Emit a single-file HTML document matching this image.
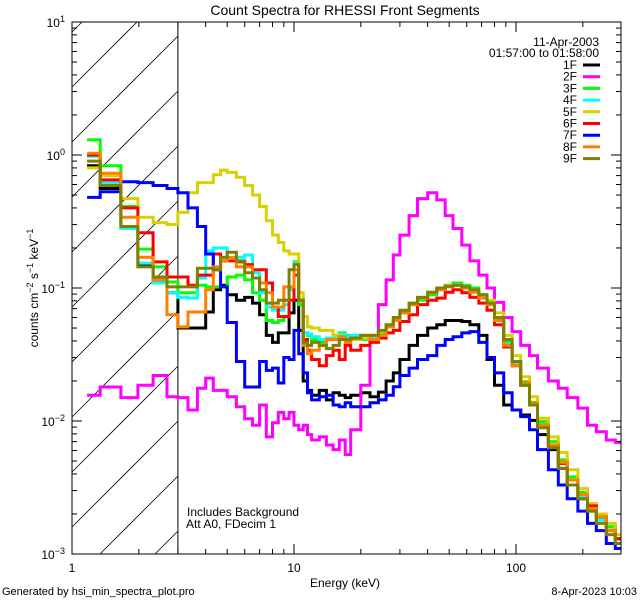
<!DOCTYPE html>
<html><head><meta charset="utf-8"><style>
html,body{margin:0;padding:0;background:#fff;width:640px;height:600px;overflow:hidden;}
svg{display:block;font-family:"Liberation Sans",sans-serif;}
</style></head><body>
<svg id="chart" width="640" height="600" viewBox="0 0 640 600" xmlns="http://www.w3.org/2000/svg">
<rect width="640" height="600" fill="#fff"/>
<text x="345" y="15" font-size="14" text-anchor="middle">Count Spectra for RHESSI Front Segments</text>
<text transform="translate(38,288) rotate(-90)" font-size="12" text-anchor="middle">counts cm<tspan dy="-5" font-size="9">−2</tspan><tspan dy="5"> s</tspan><tspan dy="-5" font-size="9">−1</tspan><tspan dy="5"> keV</tspan><tspan dy="-5" font-size="9">−1</tspan></text>
<text x="345" y="587" font-size="12" text-anchor="middle">Energy (keV)</text>
<text x="2" y="595" font-size="11">Generated by hsi_min_spectra_plot.pro</text>
<text x="637" y="595" font-size="11" text-anchor="end">8-Apr-2023 10:03</text>
<text x="187" y="516" font-size="12">Includes Background</text>
<text x="186" y="528" font-size="12">Att A0, FDecim 1</text>
<text x="599" y="46" font-size="12" text-anchor="end">11-Apr-2003</text>
<text x="599" y="57" font-size="12" text-anchor="end">01:57:00 to 01:58:00</text>
<g id="hatch"></g>
<g id="series"></g>
<g id="axes"></g>
<g id="legend"></g>
</svg>
<script>
const edges = [1.17,1.34,1.66,1.98,2.32,2.68,3.0,3.33,3.67,4.0,4.33,4.67,5.0,5.5,6,6.5,7,7.5,8,8.5,9,9.5,10,10.5,11,11.5,12,13,14,15,16,17,18,20,22,24,26,28,30,33,36,40,44,48,52,57,62,68,74,80,88,96,105,115,125,140,155,170,190,210,230,255,280,297];
const seriesNames = ["1F","2F","3F","4F","5F","6F","7F","8F","9F"];
const seriesColors = ["#000000","#ff00ff","#00ff00","#00ffff","#d8d000","#ff0000","#0000ff","#ff8000","#808000"];
const s1F = [0.83,0.56,0.29,0.15,0.115,0.092,0.050,0.050,0.050,0.066,0.097,0.105,0.089,0.081,0.085,0.077,0.063,0.044,0.039,0.046,0.046,0.065,0.081,0.048,0.020,0.017,0.0156,0.017,0.0144,0.0163,0.0156,0.0150,0.0156,0.0163,0.0152,0.0165,0.020,0.023,0.029,0.037,0.044,0.050,0.053,0.057,0.057,0.056,0.053,0.044,0.029,0.0186,0.0132,0.0121,0.0111,0.0101,0.0079,0.0061,0.0044,0.0033,0.0026,0.0022,0.0019,0.0016,0.0013];
const s2F = [0.0156,0.018,0.0150,0.0186,0.022,0.0152,0.0150,0.0121,0.0176,0.021,0.017,0.017,0.0152,0.0128,0.0104,0.0093,0.0132,0.0076,0.0097,0.0116,0.0104,0.0116,0.0093,0.0086,0.0093,0.0079,0.0072,0.0076,0.0066,0.0061,0.0072,0.0056,0.0086,0.0186,0.041,0.075,0.115,0.177,0.25,0.35,0.47,0.52,0.46,0.35,0.28,0.21,0.16,0.125,0.10,0.078,0.060,0.047,0.037,0.031,0.025,0.020,0.0176,0.0150,0.0125,0.0093,0.0083,0.0072,0.0069];
const s3F = [1.30,0.83,0.41,0.196,0.144,0.111,0.092,0.092,0.105,0.102,0.102,0.102,0.121,0.125,0.115,0.092,0.081,0.057,0.055,0.057,0.061,0.081,0.157,0.075,0.046,0.044,0.041,0.039,0.041,0.044,0.046,0.044,0.043,0.041,0.042,0.046,0.051,0.057,0.065,0.075,0.081,0.089,0.097,0.105,0.109,0.105,0.100,0.089,0.078,0.060,0.039,0.028,0.0197,0.0138,0.0099,0.0070,0.0051,0.0038,0.0029,0.0023,0.0019,0.0016,0.0013];
const s4F = [0.98,0.62,0.28,0.154,0.109,0.092,0.085,0.084,0.119,0.19,0.20,0.20,0.17,0.17,0.177,0.13,0.092,0.072,0.068,0.068,0.075,0.097,0.154,0.081,0.046,0.045,0.043,0.041,0.042,0.043,0.045,0.043,0.044,0.042,0.043,0.047,0.052,0.058,0.066,0.076,0.085,0.092,0.098,0.104,0.106,0.102,0.097,0.087,0.076,0.058,0.038,0.027,0.019,0.0132,0.0094,0.0066,0.0048,0.0036,0.0027,0.0021,0.0018,0.0015,0.0013];
const s5F = [0.80,0.70,0.47,0.34,0.31,0.30,0.37,0.52,0.62,0.62,0.71,0.77,0.74,0.68,0.59,0.50,0.41,0.32,0.25,0.22,0.19,0.18,0.18,0.092,0.061,0.051,0.050,0.048,0.048,0.044,0.042,0.041,0.041,0.042,0.044,0.047,0.051,0.057,0.065,0.075,0.084,0.093,0.100,0.105,0.105,0.102,0.097,0.089,0.081,0.065,0.044,0.031,0.0215,0.0152,0.0105,0.0076,0.0058,0.0043,0.0031,0.0024,0.0020,0.0017,0.0014];
const s6F = [1.0,0.65,0.40,0.26,0.157,0.121,0.121,0.105,0.125,0.125,0.18,0.16,0.16,0.157,0.15,0.137,0.137,0.109,0.072,0.061,0.061,0.081,0.125,0.081,0.041,0.034,0.029,0.026,0.031,0.034,0.029,0.037,0.034,0.037,0.039,0.042,0.046,0.048,0.056,0.063,0.075,0.081,0.084,0.093,0.097,0.092,0.085,0.077,0.068,0.053,0.036,0.026,0.0186,0.0132,0.0093,0.0066,0.0048,0.0036,0.0028,0.0023,0.0019,0.0015,0.0013];
const s7F = [0.48,0.53,0.63,0.62,0.59,0.56,0.52,0.40,0.29,0.18,0.137,0.102,0.055,0.028,0.018,0.018,0.028,0.024,0.025,0.0193,0.030,0.029,0.048,0.032,0.023,0.0163,0.0144,0.0152,0.0156,0.0132,0.0128,0.0137,0.0128,0.0128,0.0137,0.0144,0.0156,0.0181,0.022,0.025,0.029,0.031,0.037,0.041,0.043,0.046,0.047,0.039,0.030,0.023,0.0163,0.0121,0.0108,0.0086,0.0061,0.0043,0.0033,0.0026,0.0021,0.0017,0.0015,0.0012,0.0011];
const s8F = [1.03,0.73,0.34,0.17,0.115,0.063,0.051,0.066,0.066,0.097,0.144,0.16,0.17,0.144,0.144,0.119,0.109,0.092,0.072,0.072,0.102,0.102,0.137,0.081,0.037,0.032,0.034,0.037,0.041,0.041,0.043,0.039,0.042,0.044,0.041,0.044,0.051,0.057,0.065,0.075,0.084,0.092,0.097,0.102,0.105,0.100,0.093,0.084,0.075,0.057,0.037,0.026,0.0193,0.0136,0.0093,0.0066,0.0049,0.0036,0.0028,0.0022,0.0019,0.0015,0.0012];
const s9F = [0.90,0.59,0.29,0.144,0.121,0.102,0.102,0.102,0.141,0.141,0.137,0.17,0.186,0.16,0.13,0.119,0.097,0.077,0.077,0.081,0.081,0.137,0.15,0.081,0.039,0.037,0.039,0.037,0.035,0.037,0.041,0.041,0.042,0.044,0.044,0.048,0.053,0.060,0.068,0.077,0.085,0.093,0.100,0.103,0.105,0.102,0.097,0.089,0.077,0.060,0.041,0.028,0.0186,0.0132,0.0089,0.0063,0.0044,0.0033,0.0026,0.0021,0.0017,0.0014,0.0012];
const seriesValues = [s1F,s2F,s3F,s4F,s5F,s6F,s7F,s8F,s9F];
const xTickLabels = ["1","10","100"];
const yTickExps = ["1","0","−1","−2","−3"];

const NS = "http://www.w3.org/2000/svg";
const L = 72, R = 621, T = 22, B = 554;
const xDec = 222, yDec = (B - T) / 4;
function xs(e){ return L + xDec * Math.log10(e); }
function ys(v){ return T + yDec * (1 - Math.log10(v)); }
function mk(tag, attrs, parent){ const el = document.createElementNS(NS, tag); for (const k in attrs) el.setAttribute(k, attrs[k]); parent.appendChild(el); return el; }

const hatch = document.getElementById('hatch');
const x3 = xs(3);
const W = x3 - L;
for (let c = 87 - 55; c < B + W + 55; c += 55) {
  let sx = L, sy = c;
  if (c > B) { sx = L + (c - B); sy = B; }
  let ex = x3, ey = c - W;
  if (ey < T) { ex = L + (c - T); ey = T; }
  if (sx >= x3 || ex <= L || sy <= T) continue;
  const ln = mk('line', {x1:sx.toFixed(1), y1:sy.toFixed(1), x2:ex.toFixed(1), y2:ey.toFixed(1), stroke:'#000', 'stroke-width':0.8}, hatch);
  
  
}
const vl = mk('line', {x1:x3, y1:T, x2:x3, y2:B, stroke:'#000', 'stroke-width':1}, hatch);



const sg = document.getElementById('series');
const scp = mk('clipPath', {id:'pclip'}, document.getElementById('chart'));
mk('rect', {x:L, y:T, width:R-L, height:B-T}, scp);
sg.setAttribute('clip-path', 'url(#pclip)');
seriesValues.forEach((vals, si) => {
  let d = '';
  for (let i = 0; i < vals.length; i++) {
    const xa = xs(edges[i]), xb = xs(edges[i+1]), y = ys(vals[i]);
    d += (i === 0 ? 'M' : 'L') + xa.toFixed(1) + ',' + y.toFixed(1) + 'L' + xb.toFixed(1) + ',' + y.toFixed(1);
  }
  const p = mk('path', {d:d, fill:'none', stroke:seriesColors[si], 'stroke-width':3, 'stroke-linejoin':'miter'}, sg);
  
  
});

const ax = document.getElementById('axes');
const box = mk('rect', {x:L, y:T, width:R-L, height:B-T, fill:'none', stroke:'#000', 'stroke-width':1}, ax);


for (let dec = 0; dec < 3; dec++) {
  for (let m = 1; m < 10; m++) {
    const e = m * Math.pow(10, dec);
    const x = xs(e);
    if (x > R + 0.5) continue;
    const len = m === 1 ? 10 : 5;
    const t1 = mk('line', {x1:x, y1:B, x2:x, y2:B-len, stroke:'#000'}, ax);
    
    
    const t2 = mk('line', {x1:x, y1:T, x2:x, y2:T+len, stroke:'#000'}, ax);
    
    
  }
}
xTickLabels.forEach((lab, i) => {
  const t = mk('text', {x:xs(Math.pow(10, i)), y:572, 'font-size':12, 'text-anchor':'middle'}, ax);
  t.textContent = lab;
  
  
});
for (let dec = -3; dec < 1; dec++) {
  for (let m = 1; m < 10; m++) {
    const v = m * Math.pow(10, dec);
    const y = ys(v);
    const len = m === 1 ? 10 : 5;
    const t1 = mk('line', {x1:L, y1:y, x2:L+len, y2:y, stroke:'#000'}, ax);
    
    
    const t2 = mk('line', {x1:R, y1:y, x2:R-len, y2:y, stroke:'#000'}, ax);
    
    
  }
}
yTickExps.forEach((ex, i) => {
  const y = T + yDec * i;
  const t = mk('text', {x:65, y:y+5, 'font-size':12, 'text-anchor':'end'}, ax);
  
  
  const a = mk('tspan', {}, t); a.textContent = '10';
  const b = mk('tspan', {dy:-5, 'font-size':9}, t); b.textContent = ex;
});

const lg = document.getElementById('legend');
seriesNames.forEach((n, i) => {
  const cy = 65 + 11.7 * i;
  const g = mk('g', {}, lg);
  
  
  const t = mk('text', {x:577, y:cy+4, 'font-size':12, 'text-anchor':'end'}, g);
  t.textContent = n;
  mk('line', {x1:583, y1:cy, x2:600, y2:cy, stroke:seriesColors[i], 'stroke-width':3}, g);
});
</script>
</body></html>
